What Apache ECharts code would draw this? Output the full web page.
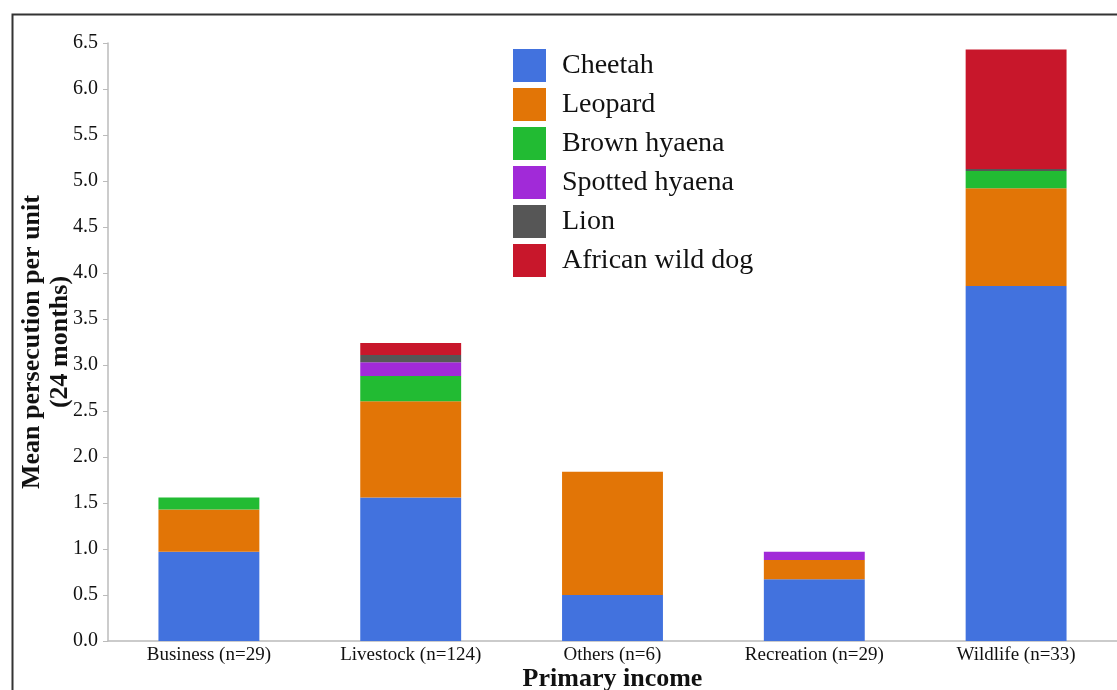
<!DOCTYPE html>
<html><head><meta charset="utf-8">
<script src="https://cdn.jsdelivr.net/npm/echarts@6/dist/echarts.min.js"></script>
<style>html,body{margin:0;padding:0;background:#fff}#c{width:1117px;height:690px}</style>
</head><body><div id="c"></div>
<script>
var categories = ['Business (n=29)', 'Livestock (n=124)', 'Others (n=6)', 'Recreation (n=29)', 'Wildlife (n=33)'];
var seriesNames = ['Cheetah', 'Leopard', 'Brown hyaena', 'Spotted hyaena', 'Lion', 'African wild dog'];
var cheetah = [0.97, 1.56, 0.50, 0.67, 3.86];
var leopard = [0.46, 1.045, 1.34, 0.21, 1.06];
var brownHyaena = [0.13, 0.275, 0, 0, 0.19];
var spottedHyaena = [0, 0.15, 0, 0.09, 0];
var lion = [0, 0.08, 0, 0, 0.02];
var wildDog = [0, 0.13, 0, 0, 1.30];
var yTicks = ['0.0','0.5','1.0','1.5','2.0','2.5','3.0','3.5','4.0','4.5','5.0','5.5','6.0','6.5'];
var colors = ['#4272de', '#e27506', '#22bb33', '#a12ad8', '#565656', '#c8172b'];
var values = [cheetah, leopard, brownHyaena, spottedHyaena, lion, wildDog];
var font = '"Liberation Serif", "DejaVu Serif", serif';

var series = seriesNames.map(function (n, i) {
  return {
    name: n, type: 'bar', stack: 'total', barWidth: '50%',
    data: values[i],
    itemStyle: { color: colors[i] },
    emphasis: { disabled: true }
  };
});

var chart = echarts.init(document.getElementById('c'), null, { renderer: 'canvas' });
chart.setOption({
  animation: false,
  backgroundColor: '#ffffff',
  color: colors,
  graphic: [{
    type: 'rect', left: 10, top: 12, z: 100, silent: true,
    shape: { width: 1140, height: 720 },
    style: { fill: 'none', stroke: '#333333', lineWidth: 2 }
  }],
  grid: { left: 108, right: 0, top: 43, bottom: 49, containLabel: false, outerBoundsMode: 'none' },
  legend: {
    orient: 'vertical', left: 508, top: 44, itemWidth: 33, itemHeight: 33, itemGap: 6,
    icon: 'rect',
    data: seriesNames,
    textStyle: { fontFamily: font, fontSize: 28, color: '#111', padding: [0, 0, 0, 11] }
  },
  xAxis: {
    type: 'category', data: categories,
    axisLine: { lineStyle: { color: '#bbbbbb', width: 1.5 } },
    axisTick: { show: false },
    axisLabel: { fontFamily: font, fontSize: 19, color: '#111', margin: 5 },
    name: 'Primary income', nameLocation: 'middle', nameGap: 25, nameMoveOverlap: false,
    nameTextStyle: { fontFamily: font, fontSize: 26, fontWeight: 'bold', color: '#111' }
  },
  yAxis: {
    type: 'value', min: 0, max: 6.5, interval: 0.5,
    axisLine: { show: true, lineStyle: { color: '#bbbbbb', width: 1.5 } },
    axisTick: { show: true, length: 5, lineStyle: { color: '#bbbbbb' } },
    splitLine: { show: false },
    axisLabel: {
      fontFamily: font, fontSize: 20, color: '#111', margin: 10,
      formatter: function (v) { return yTicks[Math.round(v / 0.5)]; }
    },
    name: 'Mean persecution per unit\n(24 months)', nameLocation: 'middle', nameGap: 34, nameMoveOverlap: false,
    nameRotate: 90,
    nameTextStyle: { fontFamily: font, fontSize: 26, fontWeight: 'bold', color: '#111', lineHeight: 28 }
  },
  series: series
});
</script></body></html>
